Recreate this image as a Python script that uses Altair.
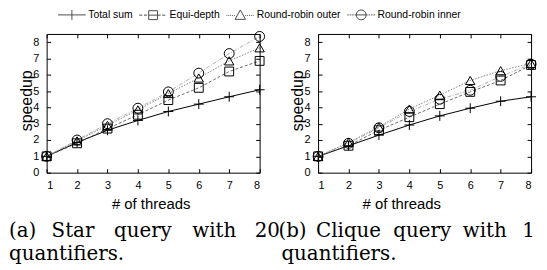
import altair as alt
import pandas as pd

threads = [1, 2, 3, 4, 5, 6, 7, 8]
series_names = ["Total sum", "Equi-depth", "Round-robin outer", "Round-robin inner"]

# (a) Star query
star_total = [1.0, 1.85, 2.6, 3.2, 3.75, 4.2, 4.65, 5.08]
star_equi = [1.0, 1.8, 2.7, 3.55, 4.45, 5.2, 6.2, 6.85]
star_rro = [1.0, 1.95, 2.9, 3.85, 4.85, 5.8, 6.85, 7.65]
star_rri = [1.0, 2.0, 3.0, 3.95, 4.95, 6.1, 7.3, 8.35]

# (b) Clique query
clique_total = [1.0, 1.65, 2.3, 2.92, 3.48, 3.95, 4.38, 4.65]
clique_equi = [1.0, 1.65, 2.6, 3.4, 4.2, 4.95, 5.65, 6.6]
clique_rro = [1.0, 1.85, 2.8, 3.9, 4.75, 5.65, 6.25, 6.7]
clique_rri = [1.0, 1.8, 2.75, 3.75, 4.5, 5.05, 5.9, 6.65]

y_ticks = [0, 1, 2, 3, 4, 5, 6, 7, 8]


def make_df(vals_list):
    rows = []
    for name, vals in zip(series_names, vals_list):
        for t, v in zip(threads, vals):
            rows.append({"threads": t, "speedup": v, "series": name})
    return pd.DataFrame(rows)


star_df = make_df([star_total, star_equi, star_rro, star_rri])
clique_df = make_df([clique_total, clique_equi, clique_rro, clique_rri])

W, H = 215, 140
SANS = "Liberation Sans"
SERIF = "DejaVu Serif"
CAP_SIZE = 20

xs = alt.Scale(domain=[1, 8], nice=False, zero=False)
ys = alt.Scale(domain=[0, 8.5], nice=False, zero=False)

line_styles = {
    "Total sum": dict(color="black", strokeWidth=1),
    "Equi-depth": dict(color="#444444", strokeWidth=0.8, strokeDash=[3, 2]),
    "Round-robin outer": dict(color="#666666", strokeWidth=0.8, strokeDash=[1.5, 1.5]),
    "Round-robin inner": dict(color="#999999", strokeWidth=0.8, strokeDash=[4, 1.5, 1, 1.5]),
}
markers = {
    "Total sum": dict(shape="M-1,0H1M0,-1V1", size=100),
    "Equi-depth": dict(shape="square", size=80),
    "Round-robin outer": dict(shape="triangle-up", size=90),
    "Round-robin inner": dict(shape="circle", size=100),
}


def dotted(x0, x1, seg, gap):
    out = ""
    x = x0
    while x < x1 - 1e-9:
        e = min(x + seg, x1)
        out += "M%.3f,0H%.3f" % (x, e)
        x = e + gap
    return out


# legend symbol paths: unit = 5 px (symbol size 100)
L = 2.8
sq = "M-0.9,-0.9H0.9V0.9H-0.9Z"
tri = "M0,-1.1L1.05,0.8H-1.05Z"
circ = "M1,0A1,1,0,1,1,-1,0A1,1,0,1,1,1,0Z"
legend_paths = [
    "M-%s,0H%s" % (L, L) + "M0,-1V1",
    dotted(-L, -0.9, 0.6, 0.35) + dotted(0.9, L, 0.6, 0.35) + sq + "M-0.9,0H0.9",
    dotted(-L, -1.0, 0.18, 0.2) + dotted(1.0, L, 0.18, 0.2) + tri,
    dotted(-L, -1.0, 0.3, 0.2) + dotted(1.0, L, 0.3, 0.2) + circ + "M-1,0H1",
]


def caption(text, x, y, limit=None):
    kw = {}
    if limit is not None:
        kw = dict(limit=limit, ellipsis="\u200b")
    return alt.Chart(alt.Data(values=[{}])).mark_text(
        text=text, font=SERIF, fontSize=CAP_SIZE, align="left", baseline="alphabetic",
        color="black", **kw
    ).encode(x=alt.value(x), y=alt.value(y))


def panel(df, title_x, ytitle_x, captions, with_legend):
    base = alt.Chart(df)
    main_x = alt.Axis(orient="bottom", values=threads, ticks=False, domain=False, grid=False,
                      labelPadding=7, labelFontSize=11, labelFont=SANS, labelColor="black",
                      title="# of threads", titleX=title_x, titleY=36, titleBaseline="alphabetic",
                      titleAlign="center", titleFontSize=15, titleFontWeight="normal",
                      titleFont=SANS, titleColor="black")
    main_y = alt.Axis(orient="left", values=y_ticks, ticks=False, domain=False, grid=False,
                      labelPadding=8, labelFontSize=11, labelFont=SANS, labelColor="black",
                      title="speedup", titleX=ytitle_x, titleY=67, titleAngle=270,
                      titleBaseline="middle", titleAlign="center", titleFontSize=16,
                      titleFontWeight="normal", titleFont=SANS, titleColor="black")
    layers = []
    first = True
    for name in series_names:
        layers.append(
            base.transform_filter(alt.datum.series == name)
            .mark_line(**line_styles[name])
            .encode(x=alt.X("threads:Q", scale=xs, axis=main_x if first else None),
                    y=alt.Y("speedup:Q", scale=ys, axis=main_y if first else None))
        )
        first = False
    for name in series_names:
        layers.append(
            base.transform_filter(alt.datum.series == name)
            .mark_point(filled=False, color="black", strokeWidth=1, opacity=1, **markers[name])
            .encode(x=alt.X("threads:Q", scale=xs, axis=None),
                    y=alt.Y("speedup:Q", scale=ys, axis=None))
        )
    tick_common = dict(labels=False, domain=False, grid=False, title=None, ticks=True,
                       tickSize=4, tickColor="black", tickWidth=1)
    layers.append(
        base.mark_point(opacity=0).encode(
            x=alt.X("threads:Q", scale=xs,
                    axis=alt.Axis(orient="top", offset=-H, values=threads, **tick_common)),
            y=alt.Y("speedup:Q", scale=ys,
                    axis=alt.Axis(orient="right", offset=-W, values=y_ticks, **tick_common)),
        )
    )
    layers.append(
        base.mark_point(opacity=0).encode(
            x=alt.X("threads:Q", scale=xs,
                    axis=alt.Axis(orient="bottom", offset=-H, values=threads, **tick_common)),
            y=alt.Y("speedup:Q", scale=ys,
                    axis=alt.Axis(orient="left", offset=-W, values=y_ticks, **tick_common)),
        )
    )
    if with_legend:
        legend_df = pd.DataFrame({"series": series_names})
        layers.append(
            alt.Chart(legend_df).mark_point(filled=False, clip=True, color="black", strokeWidth=1)
            .encode(
                x=alt.value(-2000), y=alt.value(-2000), size=alt.value(100),
                shape=alt.Shape("series:N",
                                scale=alt.Scale(domain=series_names, range=legend_paths),
                                legend=alt.Legend(orient="none", legendX=20, legendY=-25,
                                                  direction="horizontal", title=None,
                                                  symbolSize=100, labelFont=SANS,
                                                  labelFontSize=10.5, labelColor="black",
                                                  labelOffset=11, columnPadding=4,
                                                  symbolOffset=0, padding=0,
                                                  symbolStrokeWidth=1,
                                                  symbolStrokeColor="black")),
            )
        )
    layers.extend(captions)
    return alt.layer(*layers).resolve_axis(x="independent", y="independent").properties(
        width=W, height=H)


left_caps = [
    caption("(a)", -38, 205),
    caption("Star", 5, 205),
    caption("query", 68, 205),
    caption("with", 147, 205),
    caption("20", 210, 205),
    caption("quantifiers.", -38, 228),
]
right_caps = [
    caption("(b)", -40, 205),
    caption("Clique", -2, 205),
    caption("query", 76, 205),
    caption("with", 146, 205),
    caption("18", 206, 205, limit=14),
    caption("quantifiers.", -37, 228),
]

left = panel(star_df, 105, -20, left_caps, True)
right = panel(clique_df, 84, -21, right_caps, False)

chart = alt.hconcat(left, right, spacing=59, bounds="flush", padding=0).configure_view(
    stroke="black", strokeWidth=1
)

chart.save("out.html", embed_options={"renderer": "svg", "actions": False})
